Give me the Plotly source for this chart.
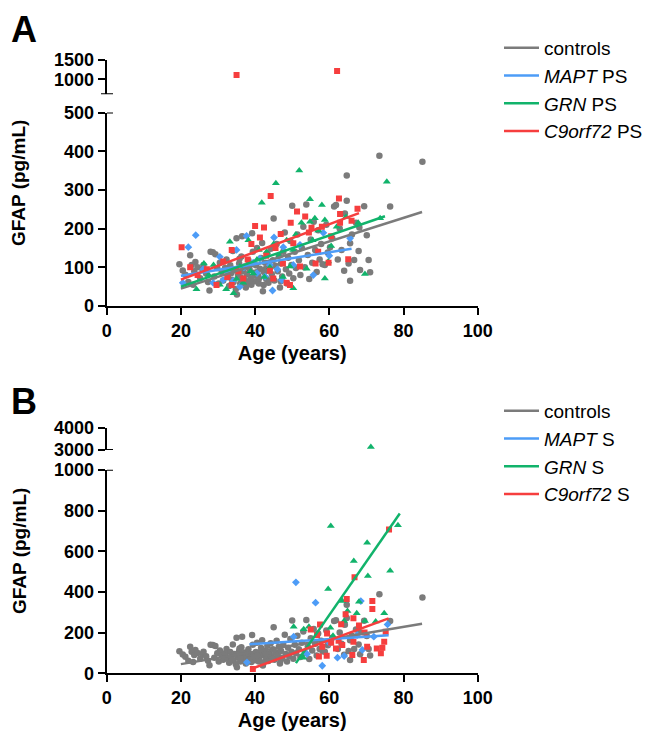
import plotly.graph_objects as go

# ---- data (age in years, GFAP in pg/mL) ----
control_age = [19.6, 20.5, 21.2, 22.0, 22.5, 22.9, 23.3, 23.6, 23.9, 24.5, 25.2, 25.8, 26.1, 26.8, 27.3,
               27.7, 28.0, 28.6, 29.0, 29.3, 29.8, 30.2, 30.5, 31.0, 31.4, 31.9, 32.3, 32.7, 33.0, 33.3,
               33.6, 34.0, 34.2, 34.5, 34.8, 35.0, 35.1, 35.4, 35.7, 36.0, 36.3, 36.5, 36.7, 37.0, 37.2,
               37.5, 37.8, 38.0, 38.2, 38.5, 38.8, 39.0, 39.2, 39.4, 39.7, 40.0, 40.2, 40.5, 40.8, 41.0,
               41.3, 41.6, 41.9, 42.1, 42.4, 42.7, 43.0, 43.3, 43.6, 43.9, 44.2, 44.5, 44.8, 45.0, 45.2,
               45.5, 45.8, 46.1, 46.4, 46.7, 47.0, 47.3, 47.6, 48.0, 48.3, 48.6, 48.9, 49.2, 49.5, 49.8,
               50.0, 50.3, 50.7, 51.0, 51.4, 51.8, 52.2, 52.6, 53.0, 53.4, 53.8, 54.2, 54.6, 55.0, 55.4,
               55.8, 56.2, 56.6, 57.0, 57.4, 57.8, 58.2, 58.8, 59.2, 59.6, 60.2, 60.8, 61.3, 61.8, 62.3,
               62.8, 63.3, 64.0, 64.2, 64.7, 64.7, 65.2, 65.6, 65.6, 66.1, 66.7, 67.2, 67.9, 68.1, 68.3,
               69.4, 70.1, 70.6, 71.0, 73.5, 76.4, 85.1,
               33.8, 34.9, 36.1, 37.4, 38.6, 39.9, 41.1, 42.3, 43.5, 44.6, 35.8, 37.9, 40.6, 42.9, 46.9]
control_gfap = [108, 92, 81, 62, 131, 106, 55, 90, 114, 100, 72, 95, 106, 84, 62,
                40, 140, 139, 76, 134, 98, 58, 112, 88, 66, 98, 120, 74, 52, 105,
                85, 142, 62, 95, 44, 175, 30, 78, 110, 58, 128, 180, 90, 70, 102,
                48, 82, 60, 118, 95, 72, 55, 188, 140, 86, 64, 105, 150, 78, 58,
                96, 124, 163, 38, 88, 112, 70, 135, 60, 98, 148, 82, 118, 226, 66,
                104, 160, 90, 130, 48, 110, 76, 140, 190, 95, 58, 125, 84, 168, 106,
                259, 72, 140, 98, 185, 118, 80, 150, 205, 100, 262, 132, 70, 172, 112,
                218, 145, 88, 196, 120, 160, 108, 106, 210, 138, 152, 175, 257, 261, 120,
                200, 145, 91, 239, 272, 337, 110, 65, 162, 185, 119, 215, 142, 203, 93,
                258, 183, 119, 87, 388, 257, 373,
                68, 92, 74, 56, 66, 80, 72, 54, 92, 70, 122, 100, 88, 96, 64]

mapt_ps_age = [20.5, 22.0, 24.0, 26.0, 28.7, 30.5, 31.4, 32.5, 34.1, 35.0, 35.9, 37.0, 37.7, 39.5, 40.5,
               41.3, 42.7, 44.0, 44.7, 45.1, 46.0, 47.2, 47.6, 50.3, 52.1, 55.7, 58.4, 60.0, 65.6]
mapt_ps_gfap = [60, 152, 183, 95, 60, 127, 67, 88, 65, 145, 50, 100, 181, 112, 85,
                123, 76, 106, 40, 177, 95, 67, 152, 106, 158, 80, 189, 130, 175]

grn_ps_age = [24.2, 26.2, 27.5, 28.8, 30.5, 32.2, 33.2, 34.2, 35.0, 35.9, 36.8, 38.2, 38.8, 39.5, 40.5,
              41.0, 41.8, 42.5, 43.1, 44.0, 45.0, 45.6, 46.5, 47.5, 48.5, 49.4, 50.3, 50.3, 51.0, 51.9,
              52.5, 53.9, 54.8, 54.8, 55.5, 56.1, 57.0, 58.0, 58.8, 58.8, 59.7, 60.5, 62.0, 64.5, 67.8,
              69.6, 73.7, 75.5]
grn_ps_gfap = [43, 110, 80, 106, 55, 43, 166, 33, 70, 102, 60, 170, 90, 84, 120,
               145, 267, 75, 140, 100, 160, 317, 130, 75, 170, 102, 46, 145, 185, 350,
               215, 96, 218, 276, 170, 227, 195, 261, 71, 222, 115, 155, 205, 230, 215,
               83, 227, 321]

c9_ps_age = [20.2, 22.5, 24.5, 27.0, 29.6, 31.4, 32.5, 33.7, 33.7, 35.5, 36.8, 38.0, 39.0, 40.0, 41.3,
             42.4, 43.0, 44.0, 44.2, 44.9, 45.5, 46.9, 47.5, 48.5, 49.4, 49.6, 50.3, 51.3, 52.1, 53.5,
             54.5, 55.2, 56.3, 57.0, 58.0, 59.8, 60.5, 62.6, 62.9, 62.9, 65.1, 66.0, 67.6, 35.0, 62.1]
c9_ps_gfap = [152, 100, 80, 95, 54, 115, 75, 54, 145, 90, 71, 120, 160, 207, 177,
              203, 130, 91, 284, 71, 150, 186, 110, 60, 54, 215, 162, 244, 102, 231,
              190, 202, 110, 140, 205, 112, 180, 278, 215, 238, 121, 220, 251, 1111, 1215]

mapt_s_age = [37.8, 50.4, 51.0, 54.0, 56.3, 58.1, 60.0, 62.2, 64.0, 67.5, 68.5, 68.9, 72.0, 75.7]
mapt_s_gfap = [54, 180, 447, 95, 347, 37, 150, 77, 85, 188, 355, 115, 180, 240]

grn_s_age = [50.4, 53.0, 53.1, 54.5, 59.7, 60.3, 60.4, 61.0, 63.5, 64.0, 64.9, 66.6, 67.4, 68.0, 69.6,
             70.2, 70.4, 71.2, 72.5, 74.8, 76.4, 78.5]
grn_s_gfap = [229, 76, 216, 229, 414, 224, 724, 185, 355, 257, 306, 552, 295, 352, 257,
              642, 478, 3140, 254, 295, 504, 728]

c9_s_age = [39.4, 55.0, 56.7, 57.2, 57.5, 58.1, 59.3, 59.4, 60.5, 61.8, 62.5, 63.2, 63.5, 64.4, 64.7,
            66.2, 66.5, 66.5, 66.8, 68.0, 69.3, 69.5, 70.2, 71.6, 71.6, 72.8, 73.9, 74.3, 74.8, 75.2, 76.1]
c9_s_gfap = [21, 215, 188, 82, 240, 131, 86, 196, 150, 122, 160, 241, 139, 290, 365,
             90, 155, 270, 472, 235, 65, 200, 131, 316, 355, 122, 98, 126, 155, 204, 707]

# regression lines (end points)
controls_fit_age = [20, 85]
controls_fit_gfap = [45, 243]
mapt_ps_fit_age = [20, 66]
mapt_ps_fit_gfap = [78, 148]
grn_ps_fit_age = [20, 75]
grn_ps_fit_gfap = [50, 232]
c9_ps_fit_age = [20, 68]
c9_ps_fit_gfap = [68, 240]
mapt_s_fit_age = [38.5, 76]
mapt_s_fit_gfap = [143, 187]
grn_s_fit_age = [51, 79]
grn_s_fit_gfap = [50, 785]
c9_s_fit_age = [39.5, 76]
c9_s_fit_gfap = [25, 270]

GRAY = '#7b7b7b'
BLUE = '#4d9cf7'
GREEN = '#11b36b'
RED = '#f63e3e'
FONT = 'Arial, Liberation Sans, sans-serif'

# the page body has an 8px margin, so the figure is shrunk by it and
# every screen position below is shifted by 8px
PAGE = 8
W, H = 653 - PAGE, 732 - PAGE


def px_x(p):
    return (p - PAGE) / W


def px_y(p):
    return 1 - (p - PAGE) / H


def add_points(fig, ages, vals, color, symbol, size, xa, ya_low, ya_high, cut):
    low = [(a, v) for a, v in zip(ages, vals) if v <= cut]
    high = [(a, v) for a, v in zip(ages, vals) if v > cut]
    for pts, ya in [(low, ya_low), (high, ya_high)]:
        if not pts:
            continue
        fig.add_trace(go.Scatter(
            x=[p[0] for p in pts], y=[p[1] for p in pts], mode='markers',
            marker=dict(color=color, symbol=symbol, size=size, line=dict(width=0)),
            xaxis=xa, yaxis=ya, showlegend=False, hoverinfo='x+y'))


def add_fit(fig, ages, vals, color, name, xa, ya, legend):
    fig.add_trace(go.Scatter(
        x=ages, y=vals, mode='lines', line=dict(color=color, width=2.5),
        name=name, xaxis=xa, yaxis=ya, legend=legend))


fig = go.Figure()

# panel A (presymptomatic)
add_points(fig, control_age, control_gfap, GRAY, 'circle', 6.5, 'x', 'y', 'y2', 600)
add_points(fig, mapt_ps_age, mapt_ps_gfap, BLUE, 'diamond', 6, 'x', 'y', 'y2', 600)
add_points(fig, grn_ps_age, grn_ps_gfap, GREEN, 'triangle-up', 7, 'x', 'y', 'y2', 600)
add_points(fig, c9_ps_age, c9_ps_gfap, RED, 'square', 6, 'x', 'y', 'y2', 600)
add_fit(fig, controls_fit_age, controls_fit_gfap, GRAY, 'controls', 'x', 'y', 'legend')
add_fit(fig, mapt_ps_fit_age, mapt_ps_fit_gfap, BLUE, '<i>MAPT</i> PS', 'x', 'y', 'legend')
add_fit(fig, grn_ps_fit_age, grn_ps_fit_gfap, GREEN, '<i>GRN</i> PS', 'x', 'y', 'legend')
add_fit(fig, c9_ps_fit_age, c9_ps_fit_gfap, RED, '<i>C9orf72</i> PS', 'x', 'y', 'legend')

# panel B (symptomatic)
add_points(fig, control_age, control_gfap, GRAY, 'circle', 6.5, 'x2', 'y3', 'y4', 1000)
add_points(fig, mapt_s_age, mapt_s_gfap, BLUE, 'diamond', 6, 'x2', 'y3', 'y4', 1000)
add_points(fig, grn_s_age, grn_s_gfap, GREEN, 'triangle-up', 7, 'x2', 'y3', 'y4', 1000)
add_points(fig, c9_s_age, c9_s_gfap, RED, 'square', 6, 'x2', 'y3', 'y4', 1000)
add_fit(fig, controls_fit_age, controls_fit_gfap, GRAY, 'controls', 'x2', 'y3', 'legend2')
add_fit(fig, mapt_s_fit_age, mapt_s_fit_gfap, BLUE, '<i>MAPT</i> S', 'x2', 'y3', 'legend2')
add_fit(fig, grn_s_fit_age, grn_s_fit_gfap, GREEN, '<i>GRN</i> S', 'x2', 'y3', 'legend2')
add_fit(fig, c9_s_fit_age, c9_s_fit_gfap, RED, '<i>C9orf72</i> S', 'x2', 'y3', 'legend2')

axis_style = dict(showline=True, linecolor='black', linewidth=2, ticks='outside', tickwidth=2,
                  ticklen=7, tickcolor='black', showgrid=False, zeroline=False,
                  tickfont=dict(family=FONT, size=18, color='black', weight='bold'))
title_font = dict(family=FONT, size=20, color='black', weight='bold')
x_dom = [px_x(106.7), px_x(477.7)]

fig.update_layout(
    width=W, height=H, autosize=False,
    margin=dict(l=0, r=0, t=0, b=0, autoexpand=False),
    plot_bgcolor='white', paper_bgcolor='white',
    xaxis=dict(axis_style, domain=x_dom, range=[0, 100], dtick=20, anchor='y',
               title=dict(text='Age (years)', font=title_font, standoff=6)),
    yaxis=dict(axis_style, domain=[px_y(306), px_y(112.5)], range=[0, 500], dtick=100, anchor='x'),
    yaxis2=dict(axis_style, domain=[px_y(94.3), px_y(60)], range=[611, 1500],
                tickvals=[1000, 1500], anchor='x'),
    xaxis2=dict(axis_style, domain=x_dom, range=[0, 100], dtick=20, anchor='y3',
                title=dict(text='Age (years)', font=title_font, standoff=6)),
    yaxis3=dict(axis_style, domain=[px_y(673.3), px_y(469.8)], range=[0, 1000], dtick=200, anchor='x2'),
    yaxis4=dict(axis_style, domain=[px_y(450), px_y(428)], range=[3000, 4000],
                tickvals=[3000, 4000], anchor='x2'),
    legend=dict(x=px_x(499), y=px_y(29), xanchor='left', yanchor='top', itemwidth=35,
                font=dict(family=FONT, size=19, color='black'), bgcolor='rgba(0,0,0,0)'),
    legend2=dict(x=px_x(499), y=px_y(392), xanchor='left', yanchor='top', itemwidth=35,
                 font=dict(family=FONT, size=19, color='black'), bgcolor='rgba(0,0,0,0)'),
)

# axis break end marks
breaks = [('y', 500, 107, 113), ('y2', 611, 101, 113), ('y3', 1000, 107, 113), ('y4', 3000, 107, 113)]
for yref, val, x0, x1 in breaks:
    fig.add_shape(type='line', xref='paper', yref=yref, x0=px_x(x0), x1=px_x(x1), y0=val, y1=val,
                  line=dict(color='black', width=2))

# y titles centred on the whole broken axis
for centre in [183, 551]:
    fig.add_annotation(text='GFAP (pg/mL)', xref='paper', yref='paper', x=px_x(19), y=px_y(centre),
                       xanchor='center', yanchor='middle', textangle=-90, showarrow=False,
                       borderpad=0, font=dict(title_font, size=19))

# panel letters
for letter, top in [('A', 8), ('B', 380)]:
    fig.add_annotation(text=letter, xref='paper', yref='paper', x=px_x(10), y=px_y(top),
                       xanchor='left', yanchor='top', showarrow=False, borderpad=0,
                       font=dict(family=FONT, size=36, color='black', weight='bold'))

fig.write_html("out.html")
